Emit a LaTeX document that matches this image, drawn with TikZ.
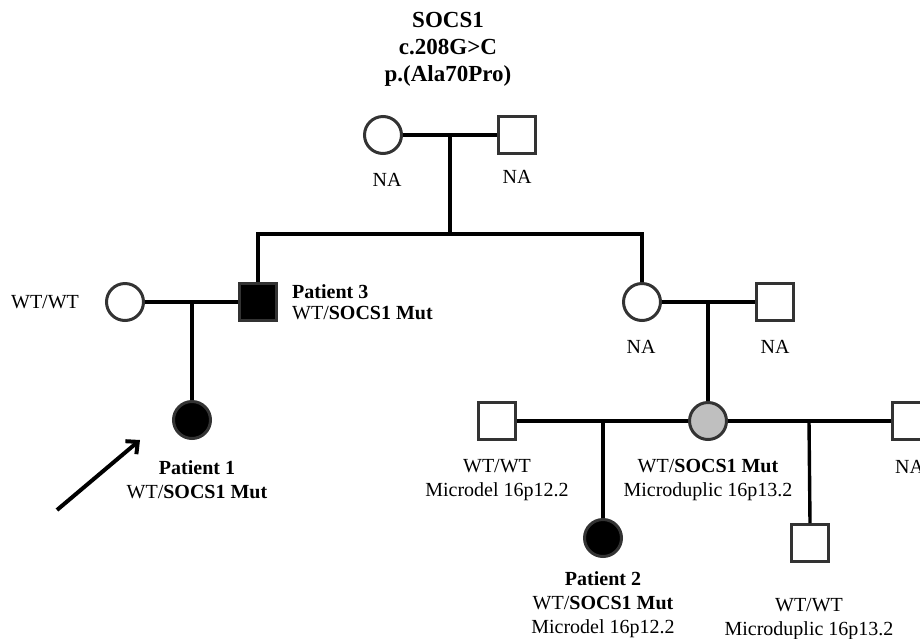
\documentclass[tikz,border=0pt]{standalone}
\usepackage{fontspec}
\setmainfont{Liberation Serif}
\usetikzlibrary{arrows.meta}

\begin{document}
\begin{tikzpicture}[x=1pt, y=-1pt,
	female/.style={circle, draw=black!80, line width=3pt, minimum size=37pt, inner sep=0pt, fill=white},
	male/.style={rectangle, draw=black!80, line width=3pt, minimum size=37pt, inner sep=0pt, fill=white},
	aff/.style={fill=black},
	carr/.style={fill=black!25},
	lbl/.style={font=\fontsize{20}{24}\selectfont, align=center, inner sep=0pt},
	rel/.style={line width=3.4pt, black}]
	\useasboundingbox (0, 0) rectangle (920, 638);
	% title
	\node [lbl, font=\fontsize{23}{27}\selectfont\bfseries] (gene) at (448, 49) {SOCS1\\c.208G>C\\p.(Ala70Pro)};
	% grandparents
	\node [female] (gm) at (383, 135) {};
	\node [male] (gf) at (517, 135) {};
	\node [lbl] (gmlbl) at (387, 180) {NA};
	\node [lbl] (gflbl) at (517, 177) {NA};
	% second generation
	\node [female] (wife) at (125, 302) {};
	\node [male, aff] (p3) at (258, 302) {};
	\node [female] (aunt) at (642, 302) {};
	\node [male] (uncle) at (775, 302) {};
	\node [lbl] (wifelbl) at (45, 302) {WT/WT};
	\node [lbl, anchor=west, align=left, font=\fontsize{20}{21}\selectfont] (p3lbl) at (292, 302) {\textbf{Patient 3}\\WT/\textbf{SOCS1 Mut}};
	\node [lbl] (auntlbl) at (641, 347) {NA};
	\node [lbl] (unclelbl) at (775, 347) {NA};
	% third generation
	\node [female, aff] (p1) at (192, 420) {};
	\node [male] (hus1) at (497, 421) {};
	\node [female, carr] (mum) at (708, 421) {};
	\node [male] (hus2) at (911, 421) {};
	\node [lbl] (p1lbl) at (197, 480) {\textbf{Patient 1}\\WT/\textbf{SOCS1 Mut}};
	\node [lbl] (hus1lbl) at (497, 480) {WT/WT\\Microdel 16p12.2};
	\node [lbl] (mumlbl) at (708, 480) {WT/\textbf{SOCS1 Mut}\\Microduplic 16p13.2};
	\node [lbl, anchor=west] (hus2lbl) at (895, 467) {NA};
	% fourth generation
	\node [female, aff] (p2) at (603, 538) {};
	\node [male] (son) at (810, 543) {};
	\node [lbl] (p2lbl) at (603, 605) {\textbf{Patient 2}\\WT/\textbf{SOCS1 Mut}\\Microdel 16p12.2};
	\node [lbl] (sonlbl) at (809, 619) {WT/WT\\Microduplic 16p13.2};
	% lines
	\coordinate (m0) at (450, 135);
	\coordinate (s0) at (450, 234);
	\coordinate (m1) at (192, 302);
	\coordinate (m2) at (708, 302);
	\coordinate (m3) at (603, 421);
	\coordinate (m4) at (809, 421);
	\draw [rel] (gm.east) -- (gf.west);
	\draw [rel] (m0) -- (s0);
	\draw [rel] (p3.north) |- (s0) -| (aunt.north);
	\draw [rel] (wife.east) -- (p3.west);
	\draw [rel] (m1) -- (p1.north);
	\draw [rel] (aunt.east) -- (uncle.west);
	\draw [rel] (m2) -- (mum.north);
	\draw [rel] (hus1.east) -- (mum.west);
	\draw [rel] (m3) -- (p2.north);
	\draw [rel] (mum.east) -- (hus2.west);
	\draw [rel] (m4) -- (son.north);
	% proband arrow
	\coordinate (arrtail) at (57, 510);
	\coordinate (arrtip) at (140, 440);
	\draw [line width=4pt, -{Straight Barb[length=9pt, width=17pt]}] (arrtail) -- (arrtip);
\end{tikzpicture}
\end{document}
